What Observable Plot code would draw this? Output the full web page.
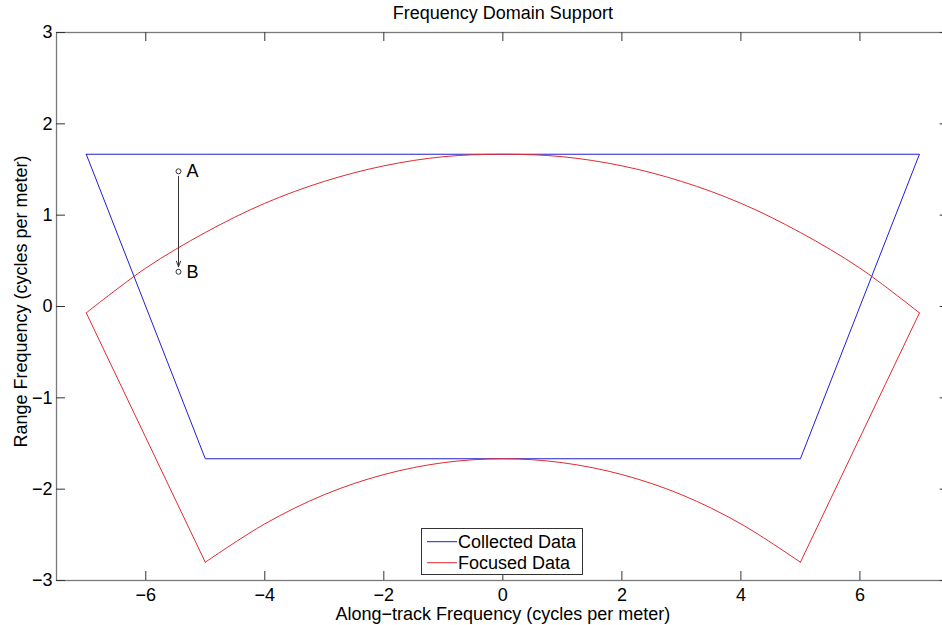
<!DOCTYPE html>
<html>
<head>
<meta charset="utf-8">
<script src="https://cdn.jsdelivr.net/npm/d3@7"></script>
<script src="https://cdn.jsdelivr.net/npm/@observablehq/plot@0.6"></script>
<style>
  body { margin: 0; background: #fff; }
  #chart { width: 942px; height: 625px; overflow: hidden; position: relative; }
</style>
</head>
<body>
<div id="chart"></div>
<script>
// Text
const title = "Frequency Domain Support";
const xLabel = "Along\u2212track Frequency (cycles per meter)";
const yLabel = "Range Frequency (cycles per meter)";

// Tick values
const xTicks = [-6, -4, -2, 0, 2, 4, 6];
const yTicks = [-3, -2, -1, 0, 1, 2, 3];

// Collected data: trapezoidal support (closed outline)
const collectedX = [-7, 7, 5, -5, -7];
const collectedY = [1.667, 1.667, -1.667, -1.667, 1.667];

// Focused data: upper and lower arcs
const focusedTopX = [-7, -6, -5, -4, -3, -2, -1, 0, 1, 2, 3, 4, 5, 6, 7];
const focusedTopY = [-0.07, 0.42, 0.81, 1.13, 1.37, 1.54, 1.64, 1.667, 1.64, 1.54, 1.37, 1.13, 0.81, 0.42, -0.07];
const focusedBottomX = [-5, -4, -3, -2, -1, 0, 1, 2, 3, 4, 5];
const focusedBottomY = [-2.80, -2.38, -2.06, -1.84, -1.71, -1.667, -1.71, -1.84, -2.06, -2.38, -2.80];

// Sample point A and its focused position B
const markerNames = ["A", "B"];
const markerX = [-5.45, -5.45];
const markerY = [1.48, 0.38];

// Legend
const seriesNames = ["Collected Data", "Focused Data"];
const seriesColors = ["#1f1fd6", "#e02a30"];

const zip = (xs, ys) => xs.map((x, i) => ({x, y: ys[i]}));
const collected = zip(collectedX, collectedY);
const focusedTop = zip(focusedTopX, focusedTopY);
const focusedBottom = zip(focusedBottomX, focusedBottomY);
const leftEdge = [focusedTop[0], focusedBottom[0]];
const rightEdge = [focusedBottom[focusedBottom.length - 1], focusedTop[focusedTop.length - 1]];
const markers = markerNames.map((name, i) => ({name, x: markerX[i], y: markerY[i]}));
const arrowData = [{x1: markerX[0], y1: markerY[0], x2: markerX[1], y2: markerY[1]}];

const W = 942, H = 625;
const mLeft = 56, mRight = -6.7, mTop = 32, mBottom = 45;
const frameW = W - mLeft - mRight;
const frameH = H - mTop - mBottom;
const tickLen = 9;
const font = "'Liberation Sans', Arial, Helvetica, sans-serif";
const fs = 18;
const fmt = d => (d < 0 ? "\u2212" + (-d) : String(d));

const chart = Plot.plot({
  width: W,
  height: H,
  marginLeft: mLeft,
  marginRight: mRight,
  marginTop: mTop,
  marginBottom: mBottom,
  style: {fontFamily: font, fontSize: fs + "px", background: "#fff", color: "#000"},
  x: {domain: [-7.5, 7.5]},
  y: {domain: [-3, 3]},
  marks: [
    Plot.frame({stroke: "#7a7a7a", strokeWidth: 1.3}),
    // inward ticks on all four sides
    Plot.tickX(xTicks, {x: d => d, insetTop: frameH - tickLen, stroke: "#333"}),
    Plot.tickX(xTicks, {x: d => d, insetBottom: frameH - tickLen, stroke: "#333"}),
    Plot.tickY(yTicks, {y: d => d, insetRight: frameW - tickLen, stroke: "#333"}),
    Plot.tickY(yTicks, {y: d => d, insetLeft: frameW - tickLen, stroke: "#333"}),
    Plot.axisX({ticks: xTicks, tickFormat: fmt, tickSize: 0, tickPadding: 8, label: null, fontSize: fs}),
    Plot.axisY({ticks: yTicks, tickFormat: fmt, tickSize: 0, tickPadding: 4, label: null, fontSize: fs}),
    // collected data outline
    Plot.line(collected, {x: "x", y: "y", stroke: seriesColors[0], strokeWidth: 1}),
    // focused data outline
    Plot.line(focusedTop, {x: "x", y: "y", stroke: seriesColors[1], strokeWidth: 1, curve: "catmull-rom"}),
    Plot.line(focusedBottom, {x: "x", y: "y", stroke: seriesColors[1], strokeWidth: 1, curve: "catmull-rom"}),
    Plot.line(leftEdge, {x: "x", y: "y", stroke: seriesColors[1], strokeWidth: 1}),
    Plot.line(rightEdge, {x: "x", y: "y", stroke: seriesColors[1], strokeWidth: 1}),
    // A -> B annotation
    Plot.arrow(arrowData, {x1: "x1", y1: "y1", x2: "x2", y2: "y2", stroke: "#333", strokeWidth: 1,
      insetStart: 5, insetEnd: 5, headLength: 9, headAngle: 40}),
    Plot.dot(markers, {x: "x", y: "y", r: 2.5, stroke: "#333", fill: "white", strokeWidth: 1}),
    Plot.text(markers, {x: "x", y: "y", text: "name", dx: 8, textAnchor: "start", lineAnchor: "middle", fontSize: fs}),
    // title and axis labels
    Plot.text([title], {text: d => d, frameAnchor: "top", dx: 0, dy: -14, lineAnchor: "bottom", fontSize: fs}),
    Plot.text([xLabel], {text: d => d, frameAnchor: "bottom", dx: 0, dy: 39.5, lineAnchor: "bottom", fontSize: fs}),
    Plot.text([yLabel], {text: d => d, frameAnchor: "left", textAnchor: "middle", dx: -29.5, dy: -5,
      rotate: -90, lineAnchor: "bottom", fontSize: fs})
  ]
});

// Legend box in the lower centre of the axes
const svg = d3.select(chart);
const lg = svg.append("g").attr("class", "legend")
  .attr("font-family", font).attr("font-size", fs).attr("text-anchor", "start");
lg.append("rect").attr("x", 421.5).attr("y", 528.5).attr("width", 161).attr("height", 46)
  .attr("fill", "#fff").attr("stroke", "#333").attr("stroke-width", 1);
seriesNames.forEach((name, i) => {
  const yy = 541.7 + i * 21;
  lg.append("line").attr("x1", 427).attr("x2", 457).attr("y1", yy).attr("y2", yy)
    .attr("stroke", seriesColors[i]).attr("stroke-width", 1);
  lg.append("text").attr("x", 458).attr("y", yy).attr("dy", "0.35em")
    .attr("text-anchor", "start").attr("fill", "#000").text(name);
});

document.getElementById("chart").appendChild(chart);
</script>
</body>
</html>
